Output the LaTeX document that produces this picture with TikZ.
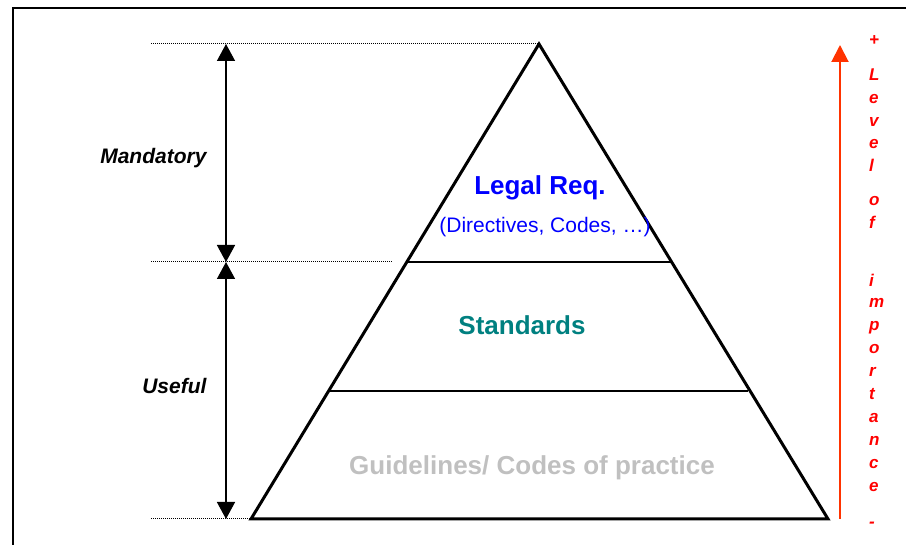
\documentclass[tikz,border=0pt]{standalone}
\usepackage{fontspec}
\setmainfont{Liberation Sans}
\usetikzlibrary{arrows.meta}
\definecolor{legalblue}{RGB}{0,0,255}
\definecolor{stdteal}{RGB}{0,128,128}
\definecolor{guidegray}{RGB}{192,192,192}
\definecolor{levelred}{RGB}{255,0,0}
\definecolor{arrowred}{RGB}{255,51,0}
\begin{document}
\begin{tikzpicture}[x=1pt,y=-1pt,
	side/.style={line width=3pt,line join=miter},
	band/.style={line width=1.8pt},
	guide/.style={line width=1pt,dash pattern=on 1pt off 1pt,black},
	span/.style={line width=1.5pt,{Triangle[width=18pt,length=17pt]}-{Triangle[width=18pt,length=17pt]}},
	sidelabel/.style={anchor=base east,font=\fontsize{21}{24}\selectfont\bfseries\itshape},
	layer/.style={anchor=base,font=\fontsize{26}{30}\selectfont\bfseries},
	letter/.style={anchor=base west,inner sep=0pt,text=levelred,font=\fontsize{17}{19}\selectfont\bfseries\itshape}]

	\useasboundingbox (0,0) rectangle (906,545);
	\draw[line width=2pt] (13,545) -- (13,8) -- (906,8);

	\coordinate (apex) at (539,44);
	\coordinate (baseL) at (251,519);
	\coordinate (baseR) at (828,519);
	\coordinate (legalL) at (407,262);
	\coordinate (legalR) at (672,262);
	\coordinate (stdL) at (330,391);
	\coordinate (stdR) at (748,391);

	\coordinate (guideTop) at (151,44);
	\coordinate (guideMid) at (151,262);
	\coordinate (guideMidEnd) at (392,262);
	\coordinate (guideBot) at (151,519);
	\coordinate (spanTop) at (226,44);
	\coordinate (spanMid) at (226,262);
	\coordinate (spanBot) at (226,519);
	\coordinate (levelLow) at (840,519);
	\coordinate (levelHigh) at (840,45);

	\draw[guide] (guideTop) -- (apex);
	\draw[guide] (guideMid) -- (guideMidEnd);
	\draw[guide] (guideBot) -- (baseL);

	\draw[band] (legalL) -- (legalR);
	\draw[band] (stdL) -- (stdR);
	\draw[side] (apex) -- (baseL) -- (baseR) -- cycle;

	\draw[span] (spanTop) -- (spanMid);
	\draw[span] (spanMid) -- (spanBot);

	\node[sidelabel] (mandatory) at (210,164) {Mandatory};
	\node[sidelabel] (useful) at (210,394) {Useful};

	\node[layer,text=legalblue] (legal) at (540,195) {Legal Req.};
	\node[anchor=base,text=legalblue,font=\fontsize{21}{24}\selectfont] (directives) at (545,233) {(Directives, Codes, …)};
	\node[layer,text=stdteal] (standards) at (522,335) {Standards};
	\node[layer,text=guidegray] (guidelines) at (532,475) {Guidelines/ Codes of practice};

	\draw[line width=2pt,arrowred,-{Triangle[width=17pt,length=17pt]}] (levelLow) -- (levelHigh);

	\foreach \ch/\yy [count=\i] in {+/46,L/81,e/104,v/127,e/149,l/172,o/206,f/229,i/287,m/308,p/331,o/354,r/377,t/400,a/423,n/446,c/469,e/492,-/527}
		\node[letter] (level\i) at (869,\yy) {\ch};

\end{tikzpicture}
\end{document}
